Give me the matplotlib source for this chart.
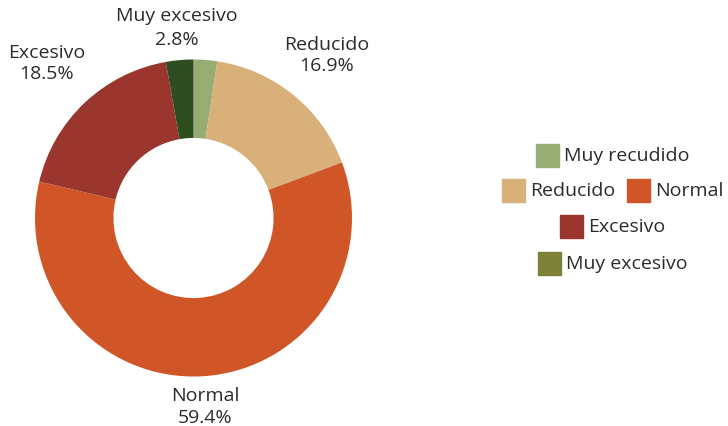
import numpy as np
import matplotlib.pyplot as plt
from matplotlib.patches import Rectangle

plt.rcParams['font.family'] = ['Open Sans', 'DejaVu Sans']

# datos
categorias = ["Muy recudido", "Reducido", "Normal", "Excesivo", "Muy excesivo"]
porcentajes = [2.4, 16.9, 59.4, 18.5, 2.8]
mostrar_etiqueta = [False, True, True, True, True]

colores_pie = ["#97ac72", "#d9b07a", "#d15627", "#9a362d", "#304d22"]
colores_leyenda = ["#97ac72", "#d9b07a", "#d15627", "#9a362d", "#7b8237"]
dist_etiqueta = [1.2, 1.33, 1.19, 1.35, 1.21]

W, H = 728, 427
fig = plt.figure(figsize=(W / 100, H / 100), dpi=100)

cx, cy, r = 193.5, 219, 158.5
ax = fig.add_axes([(cx - r) / W, (H - cy - r) / H, 2 * r / W, 2 * r / H])
wedges, _ = ax.pie(
    porcentajes,
    colors=colores_pie,
    startangle=90,
    counterclock=False,
    radius=1,
    wedgeprops=dict(width=0.495, edgecolor="none"),
)
ax.set_xlim(-1, 1)
ax.set_ylim(-1, 1)
ax.set_aspect("equal")
ax.axis("off")

for w, cat, p, show, d in zip(wedges, categorias, porcentajes, mostrar_etiqueta, dist_etiqueta):
    if not show:
        continue
    ang = np.deg2rad((w.theta1 + w.theta2) / 2)
    x, y = d * np.cos(ang), d * np.sin(ang)
    esp = 1.45 if cat == "Muy excesivo" else 1.25
    ax.text(x, y, f"{cat}\n{p}%", ha="center", va="center", fontsize=14,
            color="#2b2b2b", linespacing=esp, clip_on=False)

# leyenda manual (filas como en el original)
filas = [[0], [1, 2], [3], [4]]
y_filas = [156, 191, 227, 264]
lax = fig.add_axes([0, 0, 1, 1])
lax.set_xlim(0, W)
lax.set_ylim(H, 0)
lax.axis("off")
renderer = fig.canvas.get_renderer()
centro_leyenda = 613
sq, gap, sep = 23, 5, 12
for fila, yf in zip(filas, y_filas):
    # medir anchos para centrar la fila
    items = []
    for i in fila:
        t = lax.text(0, 0, categorias[i], fontsize=14)
        bb = t.get_window_extent(renderer=renderer)
        t.remove()
        items.append((i, bb.width))
    total = sum(sq + gap + wd for _, wd in items) + sep * (len(items) - 1)
    x0 = centro_leyenda - total / 2
    for i, wd in items:
        lax.add_patch(Rectangle((x0, yf - sq / 2), sq, sq, color=colores_leyenda[i]))
        lax.text(x0 + sq + gap, yf, categorias[i], fontsize=14, color="#2b2b2b",
                 ha="left", va="center")
        x0 += sq + gap + wd + sep

fig.savefig("out.png", dpi=100)
